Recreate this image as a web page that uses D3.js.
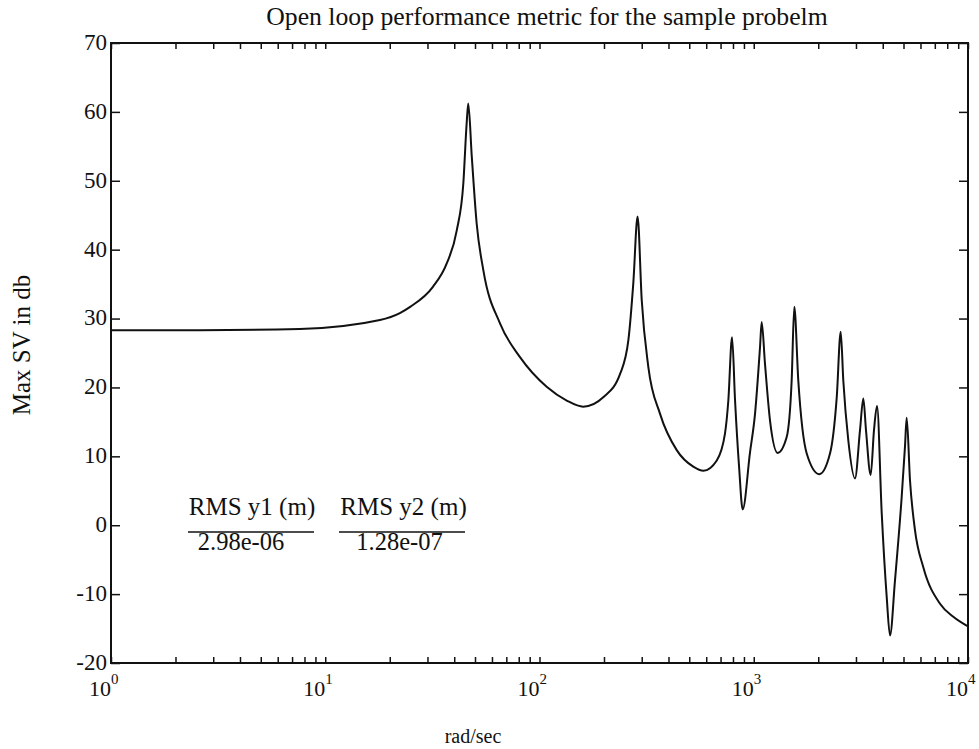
<!DOCTYPE html>
<html><head><meta charset="utf-8">
<script src="https://cdn.jsdelivr.net/npm/d3@7"></script>
<style>
html,body{margin:0;padding:0;background:#fff;}
svg text{font-family:"Liberation Serif","Times New Roman",serif;fill:#111;}
</style></head>
<body><svg id="chart" width="979" height="749"></svg>
<script>
const freq = [1,2.6,7.6,18,22.3,24.9,31.8,36.9,41.1,44.1,45.7,46.5,48.3,50.9,54.7,65.4,81.1,108,134,160,199,238,260,274,287,300,322,365,437,522,582,672,734,761,792,818,854,888,960,1014,1070,1089,1128,1191,1294,1425,1503,1546,1614,1767,2023,2269,2440,2546,2618,2763,2969,3133,3246,3341,3514,3641,3762,3957,4174,4325,4563,4903,5080,5174,5362,5656,6186,7403,8540,10000];
const db = [28.3,28.3,28.5,29.8,30.8,31.7,34.6,38.0,42.8,49.6,58.3,61.2,53.5,43.8,37.0,29.3,24.4,20.1,18.1,17.2,18.6,22.0,26.9,35.1,44.8,32.7,23.0,16.2,10.9,8.5,7.9,9.4,13.3,18.1,27.3,18.1,8.5,2.3,10.5,16.2,25.9,29.5,23.5,15.2,10.5,12.8,21.0,31.7,21.0,10.4,7.4,10.4,18.6,28.1,21.0,12.3,6.8,13.8,18.4,13.8,7.3,13.8,17.3,1.7,-10.4,-16.0,-8.0,4.1,11.4,15.6,6.5,-0.7,-6.1,-11.4,-13.3,-14.7];
const yTicks = [-20,-10,0,10,20,30,40,50,60,70];
const xDecades = [0,1,2,3,4];
const legendHeads = ["RMS y1 (m)","RMS y2 (m)"];
const legendVals = ["2.98e-06","1.28e-07"];
const title = "Open loop performance metric for the sample probelm";
const xLabel = "rad/sec";
const yLabel = "Max SV in db";

const svg = d3.select("#chart");
const L=111, R=968, T=43, B=663;
const x = d3.scaleLog().domain([1,1e4]).range([L,R]);
const y = d3.scaleLinear().domain([-20,70]).range([B,T]);

const minor = [];
for (let d=0; d<4; d++) for (let k=1;k<=9;k++) minor.push(k*Math.pow(10,d));
minor.push(1e4);

function styleAxis(g){
  g.select(".domain").remove();
  g.selectAll("line").attr("stroke","#111").attr("stroke-width",1.5);
}
svg.append("g").attr("transform",`translate(0,${B})`)
  .call(d3.axisBottom(x).tickValues(minor).tickSize(-6).tickFormat(""))
  .call(styleAxis);
svg.append("g").attr("transform",`translate(0,${T})`)
  .call(d3.axisTop(x).tickValues(minor).tickSize(-6).tickFormat(""))
  .call(styleAxis);
svg.append("g").attr("transform",`translate(${L},0)`)
  .call(d3.axisLeft(y).tickValues(yTicks).tickSize(-9).tickFormat(""))
  .call(styleAxis);
svg.append("g").attr("transform",`translate(${R},0)`)
  .call(d3.axisRight(y).tickValues(yTicks).tickSize(-9).tickFormat(""))
  .call(styleAxis);

svg.append("rect").attr("x",L).attr("y",T).attr("width",R-L).attr("height",B-T)
  .attr("fill","none").attr("stroke","#111").attr("stroke-width",2);

// y tick labels
svg.append("g").selectAll("text").data(yTicks).join("text")
  .attr("x",L-4).attr("y",d=>y(d)).attr("dy","0.3em")
  .attr("text-anchor","end").attr("font-size",23).text(d=>d);

// x tick labels with superscripts
const xl = svg.append("g").selectAll("g").data(xDecades).join("g")
  .attr("transform",d=>`translate(${x(Math.pow(10,d))},696)`);
xl.append("text").attr("text-anchor","end").attr("font-size",22).text("10");
xl.append("text").attr("x",0).attr("y",-12).attr("font-size",15).text(d=>d);

// curve
const line = d3.line().x((d,i)=>x(freq[i])).y((d,i)=>y(db[i])).curve(d3.curveMonotoneX);
svg.append("path").datum(db).attr("d",line).attr("fill","none")
  .attr("stroke","#111").attr("stroke-width",2);

// title & axis labels
svg.append("text").attr("x",547).attr("y",25).attr("text-anchor","middle")
  .attr("font-size",25.7).text(title);
svg.append("text").attr("x",473).attr("y",743).attr("text-anchor","middle")
  .attr("font-size",20).text(xLabel);
svg.append("text").attr("transform","translate(30,345) rotate(-90)")
  .attr("text-anchor","middle").attr("font-size",25).text(yLabel);

// legend
const headX = [252,403.5];
const lineX = [251,402];
const valX = [241,399.5];
legendHeads.forEach((h,i)=>{
  svg.append("text").attr("x",headX[i]).attr("y",515).attr("text-anchor","middle")
    .attr("font-size",25).text(h);
  svg.append("line").attr("x1",lineX[i]-63).attr("x2",lineX[i]+63).attr("y1",532).attr("y2",532)
    .attr("stroke","#111").attr("stroke-width",1.5);
  svg.append("text").attr("x",valX[i]).attr("y",550).attr("text-anchor","middle")
    .attr("font-size",24.5).text(legendVals[i]);
});
</script></body></html>
